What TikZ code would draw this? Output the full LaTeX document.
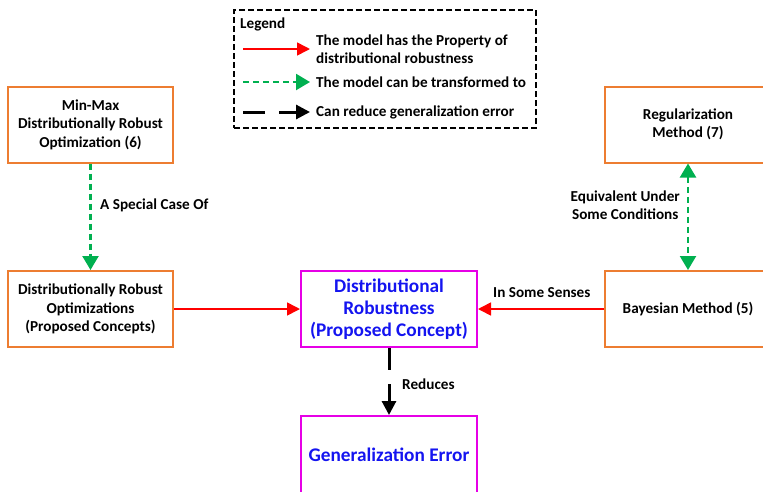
\documentclass[tikz,border=0pt]{standalone}
\usepackage{fontspec}
\setmainfont{Carlito}
\usepackage{xcolor}
\usepackage{tikz}
\usetikzlibrary{arrows.meta, positioning, shapes}
\definecolor{boxorange}{RGB}{237,125,49}
\definecolor{boxmagenta}{RGB}{230,0,230}
\definecolor{textblue}{RGB}{20,20,240}
\definecolor{arrowgreen}{RGB}{0,176,80}
\tikzset{
    orangenode/.style = {draw=boxorange, line width=2pt, rectangle, minimum width=165pt, 
      minimum height=76pt, inner sep=0pt, align=center, font=\fontsize{15.2}{18.5}\selectfont\bfseries},
    magentanode/.style = {draw=boxmagenta, line width=2pt, rectangle, minimum width=176pt, 
      minimum height=76pt, inner sep=0pt, align=center, text=textblue, font=\fontsize{19.3}{22}\selectfont\bfseries},
    legendnode/.style = {draw, line width=1.5pt, dash pattern=on 6pt off 3pt, rectangle, 
      minimum width=302pt, minimum height=118pt},
    textnode/.style = {draw=none, fill=none, rectangle, inner sep=0pt, align=left, 
      font=\fontsize{15.2}{18}\selectfont\bfseries},
    property/.style = {red, line width=1.6pt, -{Triangle[length=13pt, width=13pt]}},
    transform/.style = {arrowgreen, line width=2.2pt, dash pattern=on 6pt off 4pt, 
      -{Triangle[length=14pt, width=16pt]}},
    equivalent/.style = {transform, {Triangle[length=14pt, width=16pt]}-{Triangle[length=14pt, width=16pt]}},
    reduce/.style = {black, line width=3pt, dash pattern=on 22pt off 14pt, -{Triangle[length=14pt, width=14pt]}}
}

\begin{document}
\begin{tikzpicture}[x=1pt, y=1pt]
\useasboundingbox (0,0) rectangle (763,-491);

% legend
\node [legendnode, name=legend] at (385,-69) {};
\node [textnode, name=legendtitle, anchor=west] at (240,-24) {Legend};
\coordinate (p1) at (243,-49); \coordinate (p2) at (310,-49);
\coordinate (t1) at (243,-82); \coordinate (t2) at (310,-82);
\coordinate (r1) at (243,-112); \coordinate (r2) at (310,-112);
\draw (p1) edge[property] (p2);
\draw (t1) edge[transform] (t2);
\draw (r1) edge[reduce] (r2);
\node [textnode, name=propertytext, anchor=west] at (316,-49) {The model has the Property of\\distributional robustness};
\node [textnode, name=transformtext, anchor=west] at (316,-82) {The model can be transformed to};
\node [textnode, name=reducetext, anchor=west] at (316,-112) {Can reduce generalization error};

% boxes
\node [orangenode, name=MinMax] at (90.5,-124.5) {Min-Max\\Distributionally Robust\\Optimization (6)};
\node [orangenode, name=DRO] at (90.5,-309) {Distributionally Robust\\Optimizations\\(Proposed Concepts)};
\node [magentanode, name=DR] at (389,-309) {Distributional\\Robustness\\(Proposed Concept)};
\node [magentanode, name=GenErr, minimum height=78pt] at (389,-455) {Generalization Error};
\node [orangenode, name=Reg, minimum width=166pt] at (688,-124.5) {Regularization\\Method (7)};
\node [orangenode, name=Bayes, minimum width=166pt] at (688,-309) {Bayesian Method (5)};

% connectors
\draw (MinMax) edge[transform] (DRO);
\draw (DRO) edge[property] (DR);
\draw (Bayes) edge[property] (DR);
\draw (Reg) edge[equivalent] (Bayes);
\draw (DR) edge[reduce] (GenErr);

% labels
\node [textnode, name=specialcase, anchor=west] at (100,-205) {A Special Case Of};
\node [textnode, name=somesenses, anchor=west] at (493,-293) {In Some Senses};
\node [textnode, name=conditions, anchor=east, align=center] at (680,-205) {Equivalent Under\\Some Conditions};
\node [textnode, name=reduces, anchor=west] at (402,-384) {Reduces};

\end{tikzpicture}
\end{document}
